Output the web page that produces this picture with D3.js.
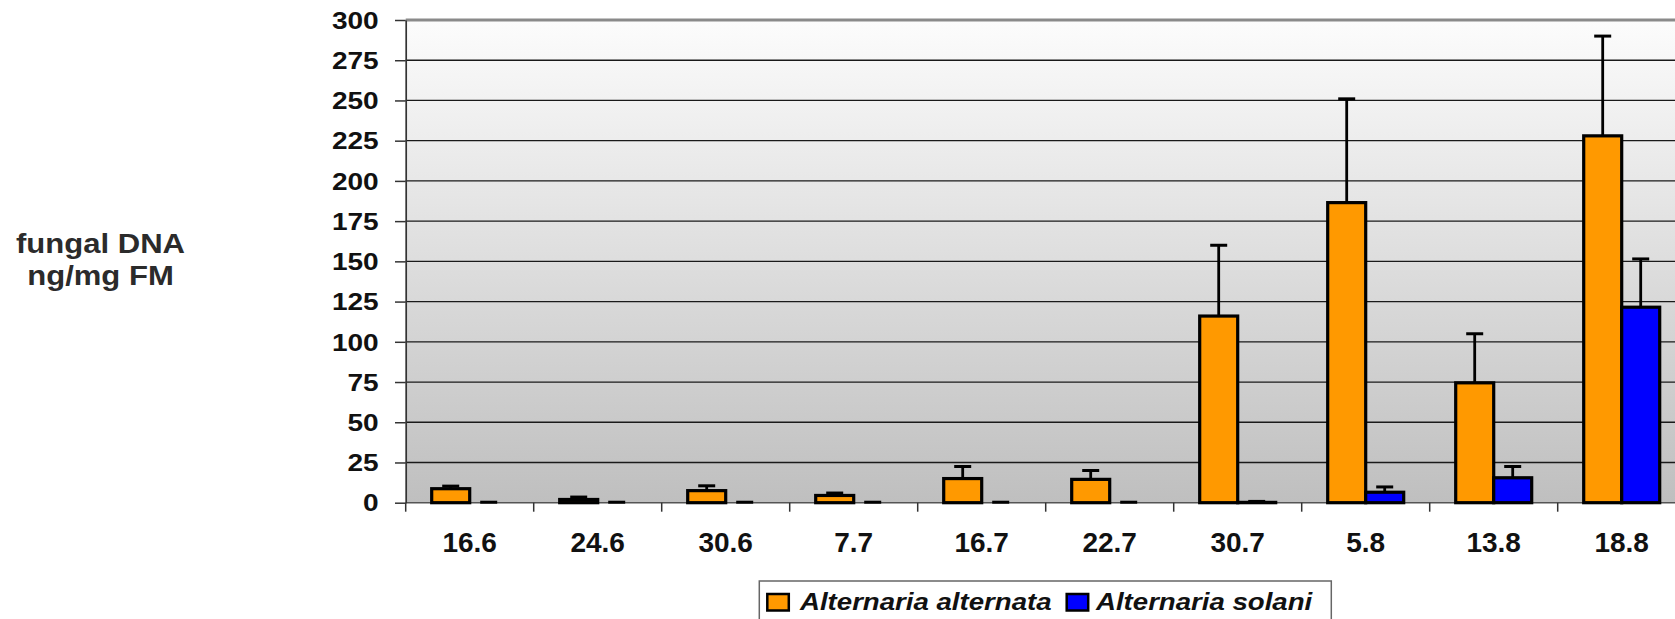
<!DOCTYPE html>
<html>
<head>
<meta charset="utf-8">
<script src="https://cdn.jsdelivr.net/npm/d3@7"></script>
<style>
  html, body { margin: 0; padding: 0; background: #ffffff; }
  svg { display: block; }
  text { font-family: "Liberation Sans", Arial, Helvetica, sans-serif; }
</style>
</head>
<body>
<svg id="chart" width="1675" height="619"></svg>
<script>
// ---- data ----
const categories = ["16.6", "24.6", "30.6", "7.7", "16.7", "22.7", "30.7", "5.8", "13.8", "18.8"];
const seriesNames = ["Alternaria alternata", "Alternaria solani"];
const alternata = [8.7, 2, 7.5, 4.5, 15, 14.5, 116, 186.5, 74.5, 228];
const alternataErr = [1.6, 1.5, 3, 1.5, 7.5, 5.5, 44, 64.5, 30.5, 62];
const solani = [0, 0, 0, 0, 0, 0, 0.2, 6.5, 15.5, 121.5];
const solaniErr = [0.3, 0.3, 0.3, 0.3, 0.3, 0.3, 0.6, 3.3, 7, 30];
const yTicks = [0, 25, 50, 75, 100, 125, 150, 175, 200, 225, 250, 275, 300];
const yTitle = ["fungal DNA", "ng/mg FM"];
const colors = ["#FF9900", "#0000FF"];

// ---- layout ----
const svg = d3.select("#chart");
const plotLeft = 405.7, plotRight = 1685.7, plotTop = 20, plotBottom = 502.7;

const x0 = d3.scaleBand().domain(categories).range([plotLeft, plotRight])
  .paddingInner(0.40625).paddingOuter(0.203125);
const x1 = d3.scaleBand().domain(seriesNames).range([0, x0.bandwidth()]).padding(0);
const y = d3.scaleLinear().domain([0, 300]).range([plotBottom, plotTop]);

// background gradient
const defs = svg.append("defs");
const grad = defs.append("linearGradient").attr("id", "bg").attr("x1", 0).attr("y1", 0).attr("x2", 0).attr("y2", 1);
grad.append("stop").attr("offset", "0%").attr("stop-color", "#fcfcfc");
grad.append("stop").attr("offset", "100%").attr("stop-color", "#bfbfbf");

svg.append("rect")
  .attr("x", plotLeft).attr("y", plotTop)
  .attr("width", plotRight - plotLeft).attr("height", plotBottom - plotTop)
  .attr("fill", "url(#bg)");

// gridlines
svg.append("g").selectAll("line")
  .data(yTicks.filter(d => d > 0 && d < 300))
  .join("line")
  .attr("x1", plotLeft).attr("x2", plotRight)
  .attr("y1", d => y(d)).attr("y2", d => y(d))
  .attr("stroke", "#1a1a1a").attr("stroke-width", 1.3);

// top border
svg.append("line")
  .attr("x1", plotLeft).attr("x2", plotRight)
  .attr("y1", y(300)).attr("y2", y(300))
  .attr("stroke", "#8a8a8a").attr("stroke-width", 3);

// bottom axis line
svg.append("line")
  .attr("x1", plotLeft).attr("x2", plotRight)
  .attr("y1", y(0)).attr("y2", y(0))
  .attr("stroke", "#555").attr("stroke-width", 1.6);

// y axis
const yAxis = svg.append("g")
  .attr("transform", `translate(${plotLeft},0)`)
  .call(d3.axisLeft(y).tickValues(yTicks).tickSize(10.7).tickSizeOuter(0));
yAxis.select(".domain").attr("stroke", "#333").attr("stroke-width", 1.7);
yAxis.selectAll(".tick line").attr("stroke", "#333").attr("stroke-width", 1.5);
yAxis.selectAll(".tick text")
  .attr("x", 0).attr("dy", "0.36em")
  .attr("transform", "translate(-27,0) scale(1.22,1)")
  .attr("text-anchor", "end")
  .attr("fill", "#111")
  .style("font-size", "23px").style("font-weight", "bold")
  .style("font-family", "'Liberation Sans', Arial, sans-serif");

// x category boundary ticks
const half = (x0.step() - x0.bandwidth()) / 2;
const bounds = categories.map(c => x0(c) - half).concat([x0(categories[categories.length - 1]) + x0.bandwidth() + half]);
svg.append("g").selectAll("line").data(bounds).join("line")
  .attr("x1", d => d).attr("x2", d => d)
  .attr("y1", y(0)).attr("y2", y(0) + 9)
  .attr("stroke", "#333").attr("stroke-width", 1.5);

// x labels
const xAxis = svg.append("g")
  .attr("transform", `translate(0,${plotBottom})`)
  .call(d3.axisBottom(x0).tickSize(0).tickPadding(0));
xAxis.select(".domain").remove();
xAxis.selectAll(".tick text")
  .attr("y", 49.6).attr("dy", 0)
  .attr("fill", "#111")
  .style("font-size", "28px").style("font-weight", "bold")
  .style("font-family", "'Liberation Sans', Arial, sans-serif");

// bars
const rows = categories.map((c, i) => ({
  cat: c,
  vals: [
    { s: seriesNames[0], v: alternata[i], e: alternataErr[i], col: colors[0] },
    { s: seriesNames[1], v: solani[i], e: solaniErr[i], col: colors[1] }
  ]
}));

const groups = svg.append("g").selectAll("g").data(rows).join("g")
  .attr("transform", d => `translate(${x0(d.cat)},0)`);

groups.selectAll("rect").data(d => d.vals).join("rect")
  .attr("x", d => x1(d.s))
  .attr("y", d => y(d.v))
  .attr("width", x1.bandwidth())
  .attr("height", d => y(0) - y(d.v))
  .attr("fill", d => d.col)
  .attr("stroke", "#000").attr("stroke-width", 3.2);

// error bars
const capW = 17;
groups.selectAll("line.err").data(d => d.vals).join("line")
  .attr("class", "err")
  .attr("x1", d => x1(d.s) + x1.bandwidth() / 2)
  .attr("x2", d => x1(d.s) + x1.bandwidth() / 2)
  .attr("y1", d => y(d.v))
  .attr("y2", d => y(d.v + d.e))
  .attr("stroke", "#000").attr("stroke-width", 2.8);
groups.selectAll("line.cap").data(d => d.vals).join("line")
  .attr("class", "cap")
  .attr("x1", d => x1(d.s) + x1.bandwidth() / 2 - capW / 2)
  .attr("x2", d => x1(d.s) + x1.bandwidth() / 2 + capW / 2)
  .attr("y1", d => y(d.v + d.e))
  .attr("y2", d => y(d.v + d.e))
  .attr("stroke", "#000").attr("stroke-width", 3);

// y title
svg.append("g").selectAll("text").data(yTitle).join("text")
  .attr("transform", (d, i) => `translate(100.5,${253 + i * 31.5}) scale(1.15,1)`)
  .attr("text-anchor", "middle")
  .attr("fill", "#2b2b2b")
  .style("font-size", "27px").style("font-weight", "bold")
  .text(d => d);

// legend
const legend = svg.append("g");
legend.append("rect")
  .attr("x", 759.3).attr("y", 581).attr("width", 572).attr("height", 60)
  .attr("fill", "#fff").attr("stroke", "#666").attr("stroke-width", 1.5);
const legX = [767.3, 1066.7];
const textX = [800, 1096];
seriesNames.forEach((s, i) => {
  legend.append("rect")
    .attr("x", legX[i]).attr("y", 594).attr("width", 21.5).attr("height", 16.5)
    .attr("fill", colors[i]).attr("stroke", "#000").attr("stroke-width", 2.5);
  legend.append("text")
    .attr("transform", `translate(${textX[i]},610) scale(1.15,1)`)
    .attr("fill", "#111")
    .style("font-size", "24px").style("font-weight", "bold").style("font-style", "italic")
    .text(s);
});
</script>
</body>
</html>
